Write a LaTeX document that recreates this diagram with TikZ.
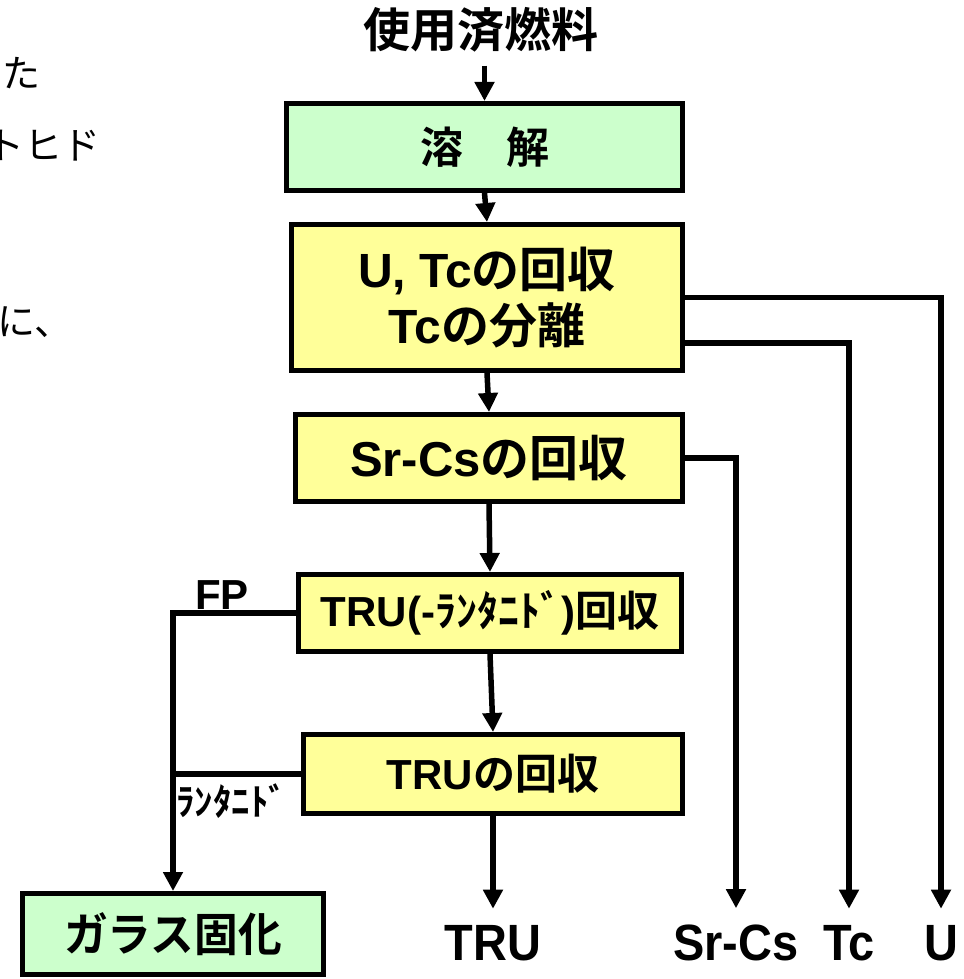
\documentclass[tikz,border=0pt]{standalone}
\usepackage{graphicx}
\usepackage{fontspec}
\setmainfont{Liberation Sans}
\newfontfamily\jp{Noto Sans CJK JP}[BoldFont={* Bold}]
\usetikzlibrary{arrows.meta}
\definecolor{boxgreen}{HTML}{CCFFCC}
\definecolor{boxyellow}{HTML}{FFFF99}
\begin{document}
\begin{tikzpicture}[x=1pt,y=-1pt,
  proc/.style={draw=black, line width=5pt, fill=boxyellow, inner sep=0pt, align=center},
  arr/.style={line width=5.5pt, -{Triangle[length=19pt,width=19pt]}},
  ln/.style={line width=5.5pt},
  lbl/.style={inner xsep=0pt, inner ysep=16pt, anchor=base, font=\bfseries\fontsize{51}{60}\selectfont},
  frag/.style={inner sep=0pt, font=\jp\fontsize{38}{44}\selectfont}]
\useasboundingbox (0,0) rectangle (963,979);

% cut-off text fragments at the left edge
\node[frag, anchor=west] (fa) at (2,73) {た};
\node[frag, anchor=east] (fb) at (101,146) {トヒド};
\node[frag, anchor=west] (fc) at (-3,322) {に、};

% process boxes
\node[inner sep=0pt, font=\bfseries\jp\fontsize{47}{55}\selectfont] (fuel) at (481,30) {使用済燃料};
\node[proc, fill=boxgreen, minimum width=396pt, minimum height=87pt, font=\bfseries\jp\fontsize{43}{50}\selectfont] (dissolve) at (484.5,147) {溶　解};
\node[proc, minimum width=391pt, minimum height=146pt, font=\bfseries\fontsize{48}{56}\selectfont] (utc) at (487,297.5) {U, Tc{\jp の回収}\\Tc{\jp の分離}};
\node[proc, minimum width=387pt, minimum height=87pt, font=\bfseries\fontsize{49}{56}\selectfont] (srcs) at (489,458) {Sr-Cs{\jp の回収}};
\node[proc, minimum width=383pt, minimum height=77pt, font=\bfseries\fontsize{42}{50}\selectfont] (trul) at (490,613) {TRU(-{\jp ﾗﾝﾀﾆﾄﾞ}){\jp 回収}};
\node[proc, minimum width=379pt, minimum height=79pt, font=\bfseries\fontsize{42}{50}\selectfont] (tru) at (493,774) {TRU{\jp の回収}};
\node[proc, fill=boxgreen, minimum width=301pt, minimum height=81pt, font=\bfseries\jp\fontsize{46}{54}\selectfont] (glass) at (173,934) {\scalebox{0.95}[1]{ガラス固化}};

% output labels
\node[lbl] (trulbl) at (493,960) {\scalebox{0.92}[1]{TRU}};
\node[lbl] (srcslbl) at (736,960) {\scalebox{0.92}[1]{Sr-Cs}};
\node[lbl] (tclbl) at (849,960) {\scalebox{0.92}[1]{Tc}};
\node[lbl] (ulbl) at (941,960) {\scalebox{0.92}[1]{U}};

% side labels
\node[inner sep=0pt, anchor=base west, font=\bfseries\fontsize{42}{50}\selectfont] (fp) at (195,609) {FP};
\node[inner sep=0pt, anchor=base west, font=\bfseries\jp\fontsize{37}{44}\selectfont] (lanlbl) at (176,815) {ﾗﾝﾀﾆﾄﾞ};

% connectors
\draw[arr, shorten <=13pt] (fuel.south -| dissolve.north) -- (dissolve.north);
\draw[arr] (dissolve.south) -- (utc.north);
\draw[arr] (utc.south) -- (srcs.north);
\draw[arr] (srcs.south) -- (trul.north);
\draw[arr] (trul.south) -- (tru.north);
\draw[arr] (tru.south) -- (trulbl.north);
\draw[arr] (utc.east) -| (ulbl.north);
\draw[arr] ([yshift=-45.5pt]utc.east) -| (tclbl.north);
\draw[arr] (srcs.east) -| (srcslbl.north);
\draw[arr] (trul.west) -| (glass.north);
\draw[ln] (tru.west) -- (tru.west -| glass.north);
\end{tikzpicture}
\end{document}
